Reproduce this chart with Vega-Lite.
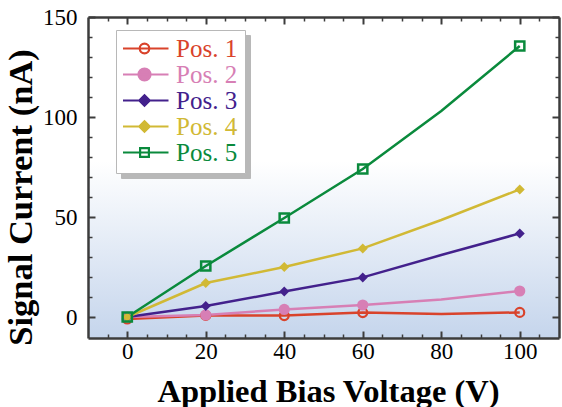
{
  "$schema": "https://vega.github.io/schema/vega-lite/v6.json",
  "width": 471,
  "height": 321,
  "autosize": {"type": "none"},
  "padding": {"left": 88, "top": 17, "right": 3, "bottom": 69},
  "background": "white",
  "config": {"view": {"stroke": null}, "font": "Liberation Serif", "axis": {"grid": false}},
  "datasets": {
    "frame": [{"xmin": -10, "xmax": 110, "ymin": -10.5, "ymax": 150}],
    "current": [
      {"s": "Pos. 1", "v": 0, "c": -1, "m": 1},
      {"s": "Pos. 1", "v": 20, "c": 0.8, "m": 1},
      {"s": "Pos. 1", "v": 40, "c": 0.7, "m": 1},
      {"s": "Pos. 1", "v": 60, "c": 2.2, "m": 1},
      {"s": "Pos. 1", "v": 80, "c": 1.5, "m": 0},
      {"s": "Pos. 1", "v": 100, "c": 2.3, "m": 1},
      {"s": "Pos. 2", "v": 0, "c": 0, "m": 1},
      {"s": "Pos. 2", "v": 20, "c": 1, "m": 1},
      {"s": "Pos. 2", "v": 40, "c": 3.8, "m": 1},
      {"s": "Pos. 2", "v": 60, "c": 6, "m": 1},
      {"s": "Pos. 2", "v": 80, "c": 8.8, "m": 0},
      {"s": "Pos. 2", "v": 100, "c": 13, "m": 1},
      {"s": "Pos. 3", "v": 0, "c": 0, "m": 1},
      {"s": "Pos. 3", "v": 20, "c": 5.5, "m": 1},
      {"s": "Pos. 3", "v": 40, "c": 12.7, "m": 1},
      {"s": "Pos. 3", "v": 60, "c": 19.8, "m": 1},
      {"s": "Pos. 3", "v": 80, "c": 31, "m": 0},
      {"s": "Pos. 3", "v": 100, "c": 41.8, "m": 1},
      {"s": "Pos. 4", "v": 0, "c": 0, "m": 1},
      {"s": "Pos. 4", "v": 20, "c": 17, "m": 1},
      {"s": "Pos. 4", "v": 40, "c": 25, "m": 1},
      {"s": "Pos. 4", "v": 60, "c": 34.3, "m": 1},
      {"s": "Pos. 4", "v": 80, "c": 48.5, "m": 0},
      {"s": "Pos. 4", "v": 100, "c": 63.8, "m": 1},
      {"s": "Pos. 5", "v": 0, "c": 0, "m": 1},
      {"s": "Pos. 5", "v": 20, "c": 25.5, "m": 1},
      {"s": "Pos. 5", "v": 40, "c": 49.5, "m": 1},
      {"s": "Pos. 5", "v": 60, "c": 74, "m": 1},
      {"s": "Pos. 5", "v": 80, "c": 103, "m": 0},
      {"s": "Pos. 5", "v": 100, "c": 135.5, "m": 1}
    ]
  },
  "layer": [
    {
      "data": {"name": "frame"},
      "mark": {
        "type": "rect",
        "color": {
          "gradient": "linear", "x1": 0, "y1": 0, "x2": 0, "y2": 1,
          "stops": [
            {"offset": 0, "color": "#ffffff"},
            {"offset": 0.45, "color": "#ffffff"},
            {"offset": 1, "color": "#c5d5ec"}
          ]
        }
      },
      "encoding": {
        "x": {
          "field": "xmin", "type": "quantitative",
          "scale": {"domain": [-10, 110], "nice": false, "zero": false},
          "axis": {
            "orient": "bottom", "values": [0, 20, 40, 60, 80, 100], "tickSize": -7, "tickWidth": 2,
            "tickColor": "#3c3c3c", "domainColor": "#3c3c3c", "domainWidth": 2.5,
            "labelFont": "Liberation Serif", "labelFontSize": 23, "labelColor": "black", "labelPadding": 9,
            "labelFlush": false, "labelOverlap": false,
            "title": "Applied Bias Voltage (V)", "titleFont": "Liberation Serif", "titleFontSize": 32.5,
            "titleFontWeight": "bold", "titleColor": "black", "titlePadding": 12, "titleX": 240, "zindex": 1
          }
        },
        "x2": {"field": "xmax"},
        "y": {
          "field": "ymin", "type": "quantitative",
          "scale": {"domain": [-10.5, 150], "nice": false, "zero": false},
          "axis": {
            "orient": "left", "values": [0, 50, 100, 150], "tickSize": -7, "tickWidth": 2,
            "tickColor": "#3c3c3c", "domainColor": "#3c3c3c", "domainWidth": 2.5,
            "labelFont": "Liberation Serif", "labelFontSize": 23, "labelColor": "black", "labelPadding": 18,
            "labelFlush": false, "labelOverlap": false,
            "title": "Signal Current (nA)", "titleFont": "Liberation Serif", "titleFontSize": 34.5,
            "titleFontWeight": "bold", "titleColor": "black", "titlePadding": 4, "titleY": 180, "zindex": 1
          }
        },
        "y2": {"field": "ymax"}
      }
    },
    {
      "data": {"name": "current"},
      "mark": {"type": "line", "strokeWidth": 2.5},
      "encoding": {
        "x": {
          "field": "v", "type": "quantitative",
          "scale": {"domain": [-10, 110], "nice": false, "zero": false},
          "axis": {
            "orient": "bottom", "values": [-5, 5, 10, 15, 25, 30, 35, 45, 50, 55, 65, 70, 75, 85, 90, 95, 105],
            "tickSize": -4, "tickWidth": 1.5, "tickColor": "#3c3c3c", "domain": false, "labels": false,
            "title": null, "zindex": 1
          }
        },
        "y": {
          "field": "c", "type": "quantitative",
          "scale": {"domain": [-10.5, 150], "nice": false, "zero": false},
          "axis": {
            "orient": "left", "values": [10, 20, 30, 40, 60, 70, 80, 90, 110, 120, 130, 140],
            "tickSize": -4, "tickWidth": 1.5, "tickColor": "#3c3c3c", "domain": false, "labels": false,
            "title": null, "zindex": 1
          }
        },
        "color": {
          "field": "s", "type": "nominal",
          "scale": {
            "domain": ["Pos. 1", "Pos. 2", "Pos. 3", "Pos. 4", "Pos. 5"],
            "range": ["#d9432b", "#d77fb5", "#43218c", "#d1b935", "#0a8a3c"]
          },
          "legend": {
            "orient": "none", "legendX": 28, "legendY": 13, "title": null, "direction": "vertical",
            "fillColor": "white", "strokeColor": "#b8b8b8", "padding": 7,
            "labelFont": "Liberation Serif", "labelFontSize": 25, "labelLimit": 300,
            "labelExpr": "datum.label + '\u00a0\u00a0'",
            "symbolSize": 64, "symbolStrokeWidth": 2.2, "symbolOffset": 9, "labelOffset": 19,
            "clipHeight": 23, "rowPadding": 0, "zindex": 2,
            "encode": {
              "symbols": {
                "update": {
                  "shape": {"signal": "datum.value === 'Pos. 1' ? 'M-6,0H6M-1.2,0A1.2,1.2,0,1,1,1.2,0A1.2,1.2,0,1,1,-1.2,0Z' : datum.value === 'Pos. 2' ? 'M-6,0H6M-1.5,0A1.5,1.5,0,1,1,1.5,0A1.5,1.5,0,1,1,-1.5,0Z' : datum.value === 'Pos. 5' ? 'M-6,0H6M-1.1,-1.1H1.1V1.1H-1.1Z' : 'M-6,0H6M0,-1.3L1.3,0L0,1.3L-1.3,0Z'"},
                  "fill": {"signal": "datum.value === 'Pos. 1' || datum.value === 'Pos. 5' ? 'transparent' : scale('color', datum.value)"},
                  "fillOpacity": {"signal": "datum.value === 'Pos. 1' || datum.value === 'Pos. 5' ? 0 : 1"},
                  "stroke": {"signal": "scale('color', datum.value)"},
                  "opacity": {"value": 1}
                }
              },
              "labels": {"update": {"fill": {"signal": "scale('color', datum.value)"}}}
            }
          }
        },
        "opacity": {
          "field": "s", "type": "nominal",
          "scale": {"range": [1, 1]},
          "legend": {
            "orient": "none", "legendX": 33, "legendY": 18, "title": null, "direction": "vertical",
            "fillColor": "#b8b8b8", "strokeColor": "#b8b8b8", "padding": 7,
            "labelFont": "Liberation Serif", "labelFontSize": 25, "labelLimit": 300,
            "labelExpr": "datum.label + '\u00a0\u00a0'",
            "symbolSize": 64, "symbolStrokeWidth": 2.2, "symbolOffset": 9, "labelOffset": 19,
            "clipHeight": 23, "rowPadding": 0, "zindex": 1,
            "encode": {
              "symbols": {
                "update": {
                  "shape": {"signal": "datum.value === 'Pos. 1' ? 'M-6,0H6M-1.2,0A1.2,1.2,0,1,1,1.2,0A1.2,1.2,0,1,1,-1.2,0Z' : datum.value === 'Pos. 2' ? 'M-6,0H6M-1.5,0A1.5,1.5,0,1,1,1.5,0A1.5,1.5,0,1,1,-1.5,0Z' : datum.value === 'Pos. 5' ? 'M-6,0H6M-1.1,-1.1H1.1V1.1H-1.1Z' : 'M-6,0H6M0,-1.3L1.3,0L0,1.3L-1.3,0Z'"},
                  "opacity": {"value": 0}
                }
              },
              "labels": {"update": {"opacity": {"value": 0}}}
            }
          }
        }
      }
    },
    {
      "data": {"name": "current"},
      "transform": [{"filter": "datum.m == 1 && datum.s === 'Pos. 1'"}],
      "mark": {"type": "point", "shape": "circle", "filled": false, "size": 80, "strokeWidth": 2.2, "opacity": 1},
      "encoding": {
        "x": {
          "field": "v", "type": "quantitative",
          "scale": {"domain": [-10, 110], "nice": false, "zero": false},
          "axis": {
            "orient": "top", "values": [0, 20, 40, 60, 80, 100], "tickSize": -7, "tickWidth": 2,
            "tickColor": "#3c3c3c", "domainColor": "#3c3c3c", "domainWidth": 2.5, "labels": false,
            "title": null, "zindex": 1
          }
        },
        "y": {
          "field": "c", "type": "quantitative",
          "scale": {"domain": [-10.5, 150], "nice": false, "zero": false},
          "axis": {
            "orient": "right", "values": [0, 50, 100, 150], "tickSize": -7, "tickWidth": 2,
            "tickColor": "#3c3c3c", "domainColor": "#3c3c3c", "domainWidth": 2.5, "labels": false,
            "title": null, "zindex": 1
          }
        },
        "color": {"field": "s", "type": "nominal", "legend": null}
      }
    },
    {
      "data": {"name": "current"},
      "transform": [{"filter": "datum.m == 1 && datum.s === 'Pos. 2'"}],
      "mark": {"type": "point", "shape": "circle", "filled": true, "size": 125, "opacity": 1},
      "encoding": {
        "x": {"field": "v", "type": "quantitative", "scale": {"domain": [-10, 110], "nice": false, "zero": false}, "axis": null},
        "y": {"field": "c", "type": "quantitative", "scale": {"domain": [-10.5, 150], "nice": false, "zero": false}, "axis": null},
        "color": {"field": "s", "type": "nominal", "legend": null}
      }
    },
    {
      "data": {"name": "current"},
      "transform": [{"filter": "datum.m == 1 && (datum.s === 'Pos. 3' || datum.s === 'Pos. 4')"}],
      "mark": {"type": "point", "shape": "diamond", "filled": true, "size": 100, "opacity": 1},
      "encoding": {
        "x": {"field": "v", "type": "quantitative", "scale": {"domain": [-10, 110], "nice": false, "zero": false}, "axis": null},
        "y": {"field": "c", "type": "quantitative", "scale": {"domain": [-10.5, 150], "nice": false, "zero": false}, "axis": null},
        "color": {"field": "s", "type": "nominal", "legend": null}
      }
    },
    {
      "data": {"name": "current"},
      "transform": [{"filter": "datum.m == 1 && datum.s === 'Pos. 5'"}],
      "mark": {"type": "point", "shape": "square", "filled": false, "size": 85, "strokeWidth": 2.5, "opacity": 1},
      "encoding": {
        "x": {
          "field": "v", "type": "quantitative",
          "scale": {"domain": [-10, 110], "nice": false, "zero": false},
          "axis": {
            "orient": "top", "values": [-5, 5, 10, 15, 25, 30, 35, 45, 50, 55, 65, 70, 75, 85, 90, 95, 105],
            "tickSize": -4, "tickWidth": 1.5, "tickColor": "#3c3c3c", "domain": false, "labels": false,
            "title": null, "zindex": 1
          }
        },
        "y": {
          "field": "c", "type": "quantitative",
          "scale": {"domain": [-10.5, 150], "nice": false, "zero": false},
          "axis": {
            "orient": "right", "values": [10, 20, 30, 40, 60, 70, 80, 90, 110, 120, 130, 140],
            "tickSize": -4, "tickWidth": 1.5, "tickColor": "#3c3c3c", "domain": false, "labels": false,
            "title": null, "zindex": 1
          }
        },
        "color": {"field": "s", "type": "nominal", "legend": null}
      }
    }
  ],
  "resolve": {"axis": {"x": "independent", "y": "independent"}}
}
